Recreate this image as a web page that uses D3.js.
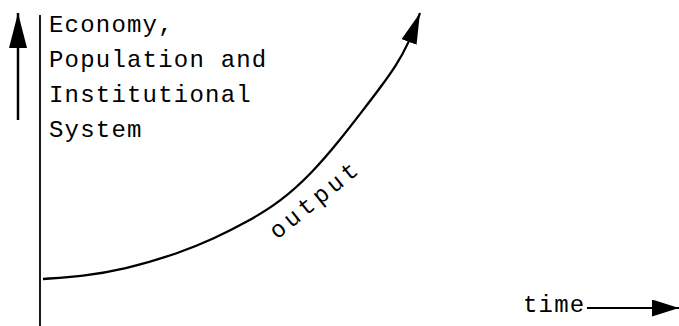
<!DOCTYPE html>
<html>
<head>
<meta charset="utf-8">
<script src="https://cdn.jsdelivr.net/npm/d3@7"></script>
<style>
  body { margin: 0; background: #fff; }
  text { font-family: "Liberation Mono", "DejaVu Sans Mono", monospace; fill: #000; }
</style>
</head>
<body>
<div id="chart-area"></div>
<script>
var w = 679;
var h = 326;

// values (time 0-100, output 0-100)
var timeVals = [0, 10.6, 21.2, 36.3, 45.1, 54.1, 62.9, 71.6, 78.8, 84.9, 89.4, 93.6, 96.8, 100];
var outputVals = [0, 1.1, 3.4, 9.8, 15.0, 21.4, 28.9, 40.2, 52.3, 63.5, 71.8, 80.1, 88.0, 100];
var yLabel = ["Economy,", "Population and", "Institutional", "System"];
var xLabel = "time";
var curveLabel = "output";

var data = timeVals.map(function(t, i){ return {t: t, v: outputVals[i]}; });

var svg = d3.select('#chart-area').append('svg')
        .attr('width', w)
        .attr('height', h);

var x = d3.scaleLinear().domain([0, 100]).range([43, 420]);
var y = d3.scaleLinear().domain([0, 100]).range([279, 13]);

// arrowheads: id, length, half width
var heads = [["headUp", 35, 9], ["headTime", 27, 8.5], ["headCurve", 31, 8]];
var defs = svg.append('defs');
heads.forEach(function(hd){
  defs.append('marker')
      .attr('id', hd[0])
      .attr('markerUnits', 'userSpaceOnUse')
      .attr('viewBox', '0 ' + (-hd[2]) + ' ' + hd[1] + ' ' + (2 * hd[2]))
      .attr('refX', hd[1])
      .attr('refY', 0)
      .attr('markerWidth', hd[1])
      .attr('markerHeight', 2 * hd[2])
      .attr('orient', 'auto')
    .append('path')
      .attr('d', 'M0,' + (-hd[2]) + 'L' + hd[1] + ',0L0,' + hd[2] + 'Z')
      .attr('fill', '#000');
});

// vertical axis line
svg.append('line')
    .attr('x1', 40).attr('x2', 40)
    .attr('y1', 15).attr('y2', h)
    .attr('stroke', '#000')
    .attr('stroke-width', 1.8);

// left up arrow
svg.append('line')
    .attr('x1', 18).attr('x2', 18)
    .attr('y1', 120).attr('y2', 13)
    .attr('stroke', '#000')
    .attr('stroke-width', 2.5)
    .attr('marker-end', 'url(#headUp)');

// time arrow
svg.append('line')
    .attr('x1', 587).attr('x2', 679)
    .attr('y1', 308).attr('y2', 308)
    .attr('stroke', '#000')
    .attr('stroke-width', 2)
    .attr('marker-end', 'url(#headTime)');

// output curve
var line = d3.line()
    .x(function(d){ return x(d.t); })
    .y(function(d){ return y(d.v); })
    .curve(d3.curveBasis);

svg.append('path')
    .datum(data)
    .attr('d', line)
    .attr('fill', 'none')
    .attr('stroke', '#000')
    .attr('stroke-width', 2.3)
    .attr('marker-end', 'url(#headCurve)');

// y label lines
svg.append('g').selectAll('text')
    .data(yLabel)
    .enter()
    .append('text')
    .attr('x', 49)
    .attr('y', function(d, i){ return 31.5 + i * 35.3; })
    .attr('font-size', 24)
    .attr('letter-spacing', 1.2)
    .text(function(d){ return d; });

svg.append('text')
    .attr('x', 523)
    .attr('y', 312)
    .attr('font-size', 24)
    .attr('letter-spacing', 1.2)
    .text(xLabel);

svg.append('text')
    .attr('transform', 'translate(277,240) rotate(-39)')
    .attr('font-size', 24)
    .attr('letter-spacing', 4)
    .text(curveLabel);
</script>
</body>
</html>
